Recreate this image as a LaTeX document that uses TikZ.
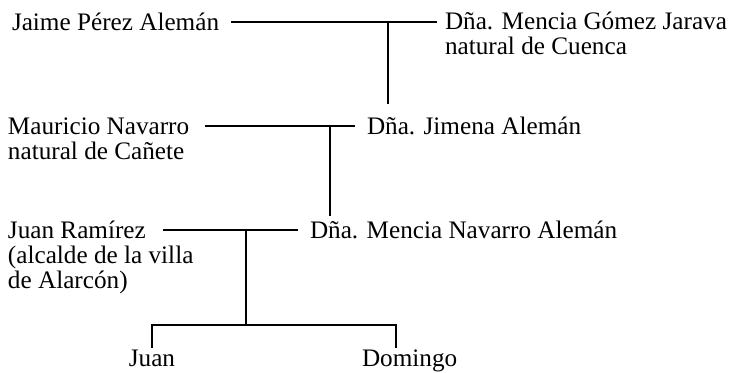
\documentclass[tikz,border=0pt]{standalone}
\usepackage{fontspec}
\setmainfont{Liberation Serif}
\usetikzlibrary{positioning}
\tikzset{
	x=0.5pt, y=-0.5pt, % one unit is one pixel of the page, y runs downwards
	person/.style={anchor=base west, inner sep=0pt, outer sep=0pt, font=\fontsize{12.6}{12.5}\selectfont}, % every name
	note/.style={person, align=left}, % the lines under a name (base is the last line)
	tie/.style={line width=1pt}, % every connecting line
}

\begin{document}
\begin{tikzpicture}
	\useasboundingbox (0,0) rectangle (730,373);
			\node[person] (jaime) at (12,31) {Jaime Pérez Alemán};
			\node[person] (mencia1) at (445,30) {Dña. Mencia Gómez Jarava};
			\node[note, below=12.5pt of mencia1.base west, anchor=base west] (cuenca) {natural de Cuenca};
			\node[person] (mauricio) at (8,135) {Mauricio Navarro};
			\node[note, below=12.5pt of mauricio.base west, anchor=base west] (canete) {natural de Cañete};
			\node[person] (jimena) at (367,135) {Dña. Jimena Alemán};
			\node[person] (juanr) at (8,239) {Juan Ramírez};
			\node[note, below=25pt of juanr.base west, anchor=base west] (alcalde) {(alcalde de la villa\\de Alarcón)};
			\node[person] (mencia2) at (310,239) {Dña. Mencia Navarro Alemán};
			\node[person, anchor=base] (juan) at (152,367) {Juan};
			\node[person] (domingo) at (362,367) {Domingo};
			% where the children hang from the marriage lines
			\coordinate (k1) at (jaime.east -| 388,0);
			\coordinate (k2) at (jimena.west -| 330,0);
			\coordinate (k3) at (mencia2.west -| 246,0);
			\coordinate (fork) at (246,325);
	\draw[tie, shorten <=6pt, shorten >=4pt] (jaime.east) -- (jaime.east -| mencia1.west);
	\draw[tie, shorten >=6.5pt] (k1) -- (k1 |- jimena.north);
	\draw[tie, shorten <=8pt, shorten >=6pt] (jimena.west -| mauricio.east) -- (jimena.west);
	\draw[tie, shorten >=2.5pt] (k2) -- (k2 |- mencia2.north);
	\draw[tie, shorten <=8.5pt, shorten >=6pt] (mencia2.west -| juanr.east) -- (mencia2.west);
	\draw[tie] (k3) -- (fork);
	\draw[tie, shorten <=1pt, shorten >=1pt] (juan.north) |- (fork) -| ([xshift=17pt]domingo.north west);
	\end{tikzpicture}
\end{document}
